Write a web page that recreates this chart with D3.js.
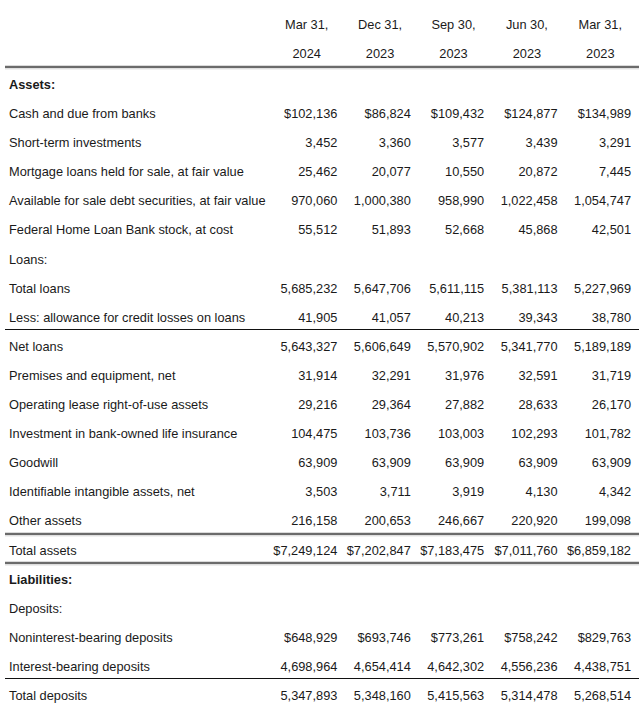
<!DOCTYPE html>
<html><head><meta charset="utf-8">
<script src="https://cdn.jsdelivr.net/npm/d3@7"></script>
<style>
html,body{margin:0;padding:0;background:#fff;}
text{font-family:"Liberation Sans",Arial,sans-serif;font-size:12.8px;fill:#1a1a1a;}
</style></head><body>
<svg id="c" width="640" height="710"></svg>
<script>
const periodsTop = ["Mar 31,","Dec 31,","Sep 30,","Jun 30,","Mar 31,"];
const periodsBottom = ["2024","2023","2023","2023","2023"];
const labels = ["Assets:","Cash and due from banks","Short-term investments","Mortgage loans held for sale, at fair value","Available for sale debt securities, at fair value","Federal Home Loan Bank stock, at cost","Loans:","Total loans","Less: allowance for credit losses on loans","Net loans","Premises and equipment, net","Operating lease right-of-use assets","Investment in bank-owned life insurance","Goodwill","Identifiable intangible assets, net","Other assets","Total assets","Liabilities:","Deposits:","Noninterest-bearing deposits","Interest-bearing deposits","Total deposits"];
const boldRows = ["Assets:","Liabilities:"];
const dollarRows = ["Cash and due from banks","Total assets","Noninterest-bearing deposits"];
const mar2024 = [null,102136,3452,25462,970060,55512,null,5685232,41905,5643327,31914,29216,104475,63909,3503,216158,7249124,null,null,648929,4698964,5347893];
const dec2023 = [null,86824,3360,20077,1000380,51893,null,5647706,41057,5606649,32291,29364,103736,63909,3711,200653,7202847,null,null,693746,4654414,5348160];
const sep2023 = [null,109432,3577,10550,958990,52668,null,5611115,40213,5570902,31976,27882,103003,63909,3919,246667,7183475,null,null,773261,4642302,5415563];
const jun2023 = [null,124877,3439,20872,1022458,45868,null,5381113,39343,5341770,32591,28633,102293,63909,4130,220920,7011760,null,null,758242,4556236,5314478];
const mar2023 = [null,134989,3291,7445,1054747,42501,null,5227969,38780,5189189,31719,26170,101782,63909,4342,199098,6859182,null,null,829763,4438751,5268514];
const series = [mar2024,dec2023,sep2023,jun2023,mar2023];
// rule lines drawn above these rows
const thinRulesAbove = ["Net loans","Total deposits"];
const doubleRulesAbove = ["Total assets","Liabilities:"];

const svg = d3.select("#c");
const y = d3.scalePoint().domain(labels).range([84.5,695.5]);
const x = d3.scaleBand().domain(d3.range(periodsTop.length)).range([270,637]);
const fmt = d3.format(",");

// header
const hdr = svg.append("g");
hdr.selectAll("text.t").data(periodsTop).join("text").attr("class","t")
  .attr("x",(d,i)=>x(i)+x.bandwidth()/2).attr("y",25).attr("dy","0.35em").attr("text-anchor","middle").text(d=>d);
hdr.selectAll("text.b").data(periodsBottom).join("text").attr("class","b")
  .attr("x",(d,i)=>x(i)+x.bandwidth()/2).attr("y",54).attr("dy","0.35em").attr("text-anchor","middle").text(d=>d);

function doubleRule(yy){
  svg.append("line").attr("x1",5).attr("x2",639).attr("y1",yy).attr("y2",yy).attr("stroke","#6b6b6b").attr("stroke-width",2.5);
  svg.append("line").attr("x1",5).attr("x2",639).attr("y1",yy+2).attr("y2",yy+2).attr("stroke","#e4e4e4").attr("stroke-width",1);
}
doubleRule(y(labels[0])-17.5);
doubleRulesAbove.forEach(l=>doubleRule(y(l)-16));
thinRulesAbove.forEach(l=>{
  const yy=Math.round(y(l)-17.5)+0.5;
  svg.append("line").attr("x1",5).attr("x2",639).attr("y1",yy).attr("y2",yy).attr("stroke","#111").attr("stroke-width",1.2);
});

// labels
svg.append("g").selectAll("text").data(labels).join("text")
  .attr("x",9).attr("y",d=>y(d)).attr("dy","0.35em")
  .style("font-weight",d=>boldRows.includes(d)?"bold":"normal").text(d=>d);

// values
series.forEach((s,ci)=>{
  svg.append("g").selectAll("text").data(s.map((v,i)=>({v,l:labels[i]})).filter(d=>d.v!==null)).join("text")
    .attr("x",x(ci)+x.bandwidth()-6).attr("y",d=>y(d.l)).attr("dy","0.35em").attr("text-anchor","end")
    .text(d=>(dollarRows.includes(d.l)?"$":"")+fmt(d.v));
});
</script></body></html>
